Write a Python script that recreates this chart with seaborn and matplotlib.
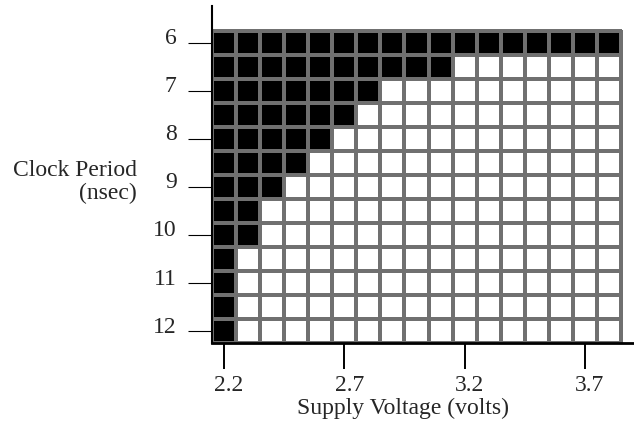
import numpy as np
import pandas as pd
import seaborn as sns
import matplotlib.pyplot as plt
from matplotlib.transforms import ScaledTranslation

sns.set_style('white')
plt.rcParams['font.family'] = ['Liberation Serif', 'DejaVu Serif']

# supply voltages (columns) and clock periods (rows)
voltages = [2.2, 2.3, 2.4, 2.5, 2.6, 2.7, 2.8, 2.9, 3.0, 3.1, 3.2, 3.3, 3.4, 3.5, 3.6, 3.7, 3.8]
periods = [6, 6.5, 7, 7.5, 8, 8.5, 9, 9.5, 10, 10.5, 11, 11.5, 12]
# number of failing (black) cells from the left in each row
fail_counts = [17, 10, 7, 6, 5, 4, 3, 2, 2, 1, 1, 1, 1]

xtick_labels = ['2.2', '2.7', '3.2', '3.7']
ytick_labels = ['6', '7', '8', '9', '10', '11', '12']

grid = np.zeros((len(periods), len(voltages)))
for i, n in enumerate(fail_counts):
    grid[i, :n] = 1
df = pd.DataFrame(grid, index=periods, columns=voltages)

fig = plt.figure(figsize=(6.34, 4.25), dpi=100)
ax = fig.add_axes([0.3344, 0.1929, 0.6656, 0.793])

sns.heatmap(df, cmap=['white', 'black'], cbar=False, linewidths=1.5,
            linecolor='#707070', square=False, ax=ax)

ax.set_xlim(0, 17.54)
ax.set_ylim(13, -1.04)

# ticks
xpos = [voltages.index(float(t)) + 0.5 for t in xtick_labels]
ypos = [periods.index(float(t)) + 0.5 for t in ytick_labels]
ax.set_xticks(xpos)
ax.set_xticklabels(xtick_labels, fontsize=17, rotation=0)
ax.set_yticks(ypos)
ax.set_yticklabels(ytick_labels, fontsize=17, rotation=0)

ax.tick_params(axis='x', direction='out', length=19, width=1.4, pad=4,
               bottom=True, color='black')
ax.tick_params(axis='y', direction='out', length=17, width=0.8, pad=8.5,
               left=True, color='black')

for lab in ax.get_xticklabels():
    lab.set_transform(lab.get_transform() + ScaledTranslation(5 / 100, 0, fig.dpi_scale_trans))
for lab in ax.get_yticklabels():
    lab.set_transform(lab.get_transform() + ScaledTranslation(0, 4 / 100, fig.dpi_scale_trans))

for s in ['top', 'right']:
    ax.spines[s].set_visible(False)
ax.spines['left'].set_visible(True)
ax.spines['bottom'].set_visible(True)
ax.spines['left'].set_color('black')
ax.spines['bottom'].set_color('black')
ax.spines['left'].set_linewidth(1.5)
ax.spines['bottom'].set_linewidth(2)

ax.set_xlabel('Supply Voltage (volts)', fontsize=17, va='center')
ax.xaxis.set_label_coords(0.453, -0.193)
ax.set_ylabel('Clock Period\n(nsec)', fontsize=17, rotation=0, ha='right',
              va='center', multialignment='right', linespacing=1.15)
ax.yaxis.set_label_coords(-0.178, 0.478)

fig.savefig('out.png', dpi=100)
